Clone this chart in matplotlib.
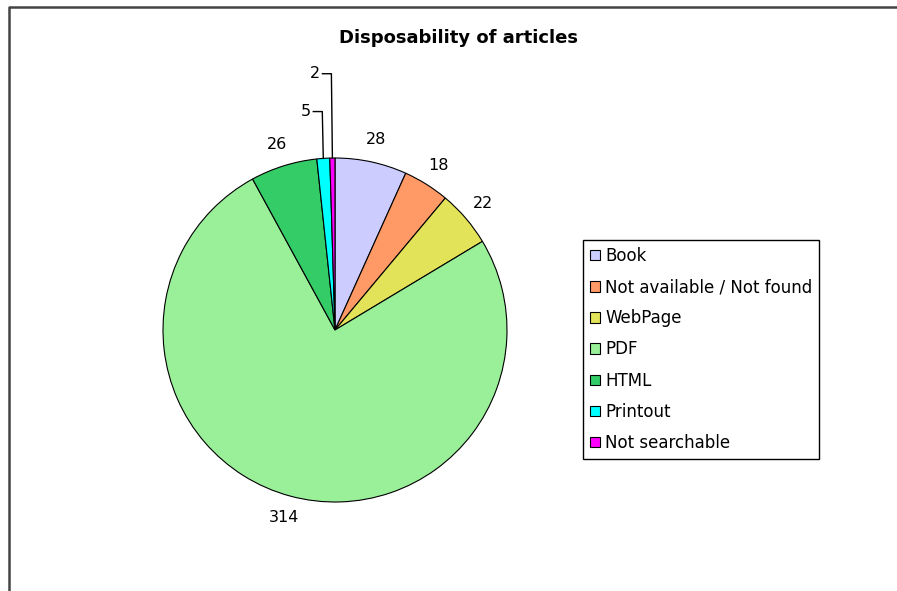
import numpy as np
import matplotlib
matplotlib.use("Agg")
import matplotlib.pyplot as plt
from matplotlib.patches import Patch
from matplotlib.lines import Line2D

plt.rcParams['font.family'] = ['DejaVu Sans']

categories = ['Book', 'Not available / Not found', 'WebPage', 'PDF', 'HTML', 'Printout', 'Not searchable']
counts = [28, 18, 22, 314, 26, 5, 2]
colors = ['#CCCCFF', '#FF9966', '#E3E35A', '#99F099', '#33CC66', '#00FFFF', '#FF00FF']

W, H = 897, 591
fig = plt.figure(figsize=(W / 100, H / 100), dpi=100)
ax = fig.add_axes([0, 0, 1, 1])

cx, cy, R = 335, 591 - 330, 172
wedges, _ = ax.pie(counts, colors=colors, startangle=90, counterclock=False,
                   center=(cx, cy), radius=R, frame=True,
                   wedgeprops=dict(edgecolor='black', linewidth=0.8))
ax.set_xlim(0, W)
ax.set_ylim(0, H)
ax.set_aspect('equal')
ax.axis('off')

# value labels
for w, v in zip(wedges, counts):
    mid = np.deg2rad((w.theta1 + w.theta2) / 2)
    if v >= 10:
        x = cx + 1.13 * R * np.cos(mid)
        y = cy + 1.13 * R * np.sin(mid)
        ax.text(x, y, str(v), ha='center', va='center', fontsize=11.5)
    else:
        ex = cx + R * np.cos(mid)
        ey = cy + R * np.sin(mid)
        ty = cy + (1.27 if v >= 5 else 1.49) * R
        ax.plot([ex, ex - 1, ex - 10], [ey, ty, ty], color='black', lw=1)
        ax.text(ex - 12, ty, str(v), ha='right', va='center', fontsize=11.5)

fig.text(458 / W, 1 - 38 / H, 'Disposability of articles', ha='center', va='center',
         fontsize=13, fontweight='bold')

handles = [Patch(facecolor=c, edgecolor='black', linewidth=0.8) for c in colors]
leg = fig.legend(handles, categories, loc='upper left',
                 bbox_to_anchor=(583 / W, 1 - 240 / H), fontsize=12,
                 handlelength=0.6, handleheight=0.6, handletextpad=0.3,
                 labelspacing=0.79, borderpad=0.42, borderaxespad=0,
                 fancybox=False, framealpha=1, edgecolor='black')
leg.get_frame().set_linewidth(1)

# chart area frame (left and top edges)
fig.add_artist(Line2D([8.5 / W, 8.5 / W, 1], [0, 1 - 6.5 / H, 1 - 6.5 / H],
                      transform=fig.transFigure, color='#444444', lw=1.8))

fig.savefig('out.png', dpi=100, facecolor='white')
